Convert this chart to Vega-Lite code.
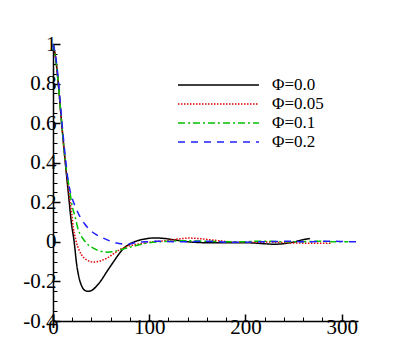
{
  "$schema": "https://vega.github.io/schema/vega-lite/v6.json",
  "autosize": {"type": "none"},
  "padding": {"left": 53, "top": 44, "right": 49, "bottom": 41},
  "width": 305,
  "height": 277,
  "background": "white",
  "config": {
    "view": {"stroke": null},
    "axis": {"grid": false, "domainColor": "black", "domainWidth": 1.5, "tickColor": "black", "labelColor": "black", "labelFont": "Liberation Serif", "labelFontSize": 21, "title": null, "labelOverlap": false, "labelFlush": false},
    "legend": {"orient": "none", "legendX": 154.5, "legendY": 30, "title": null, "symbolType": "M-4,0H4", "symbolSize": 410, "symbolStrokeWidth": 1.5, "labelFont": "Liberation Serif", "labelFontSize": 17, "labelColor": "black", "labelOffset": 42.5, "rowPadding": 0}
  },
  "data": {"values": [
    {"s":"Φ=0.0","x":0,"y":1},{"s":"Φ=0.0","x":3,"y":0.92},{"s":"Φ=0.0","x":5.5,"y":0.8},{"s":"Φ=0.0","x":9,"y":0.6},{"s":"Φ=0.0","x":13,"y":0.39},{"s":"Φ=0.0","x":16.5,"y":0.22},{"s":"Φ=0.0","x":19,"y":0.1},{"s":"Φ=0.0","x":22,"y":0},{"s":"Φ=0.0","x":24.5,"y":-0.11},{"s":"Φ=0.0","x":27,"y":-0.18},{"s":"Φ=0.0","x":30,"y":-0.225},{"s":"Φ=0.0","x":33,"y":-0.245},{"s":"Φ=0.0","x":36,"y":-0.25},{"s":"Φ=0.0","x":40,"y":-0.246},{"s":"Φ=0.0","x":45,"y":-0.225},{"s":"Φ=0.0","x":50,"y":-0.195},{"s":"Φ=0.0","x":56,"y":-0.15},{"s":"Φ=0.0","x":63,"y":-0.1},{"s":"Φ=0.0","x":68,"y":-0.065},{"s":"Φ=0.0","x":73,"y":-0.035},{"s":"Φ=0.0","x":80,"y":-0.01},{"s":"Φ=0.0","x":88,"y":0.006},{"s":"Φ=0.0","x":96,"y":0.015},{"s":"Φ=0.0","x":106,"y":0.02},{"s":"Φ=0.0","x":116,"y":0.017},{"s":"Φ=0.0","x":126,"y":0.01},{"s":"Φ=0.0","x":136,"y":0.003},{"s":"Φ=0.0","x":150,"y":-0.003},{"s":"Φ=0.0","x":170,"y":-0.005},{"s":"Φ=0.0","x":190,"y":-0.004},{"s":"Φ=0.0","x":205,"y":-0.005},{"s":"Φ=0.0","x":218,"y":-0.009},{"s":"Φ=0.0","x":230,"y":-0.012},{"s":"Φ=0.0","x":240,"y":-0.009},{"s":"Φ=0.0","x":250,"y":-0.001},{"s":"Φ=0.0","x":258,"y":0.009},{"s":"Φ=0.0","x":267,"y":0.017},
    {"s":"Φ=0.05","x":0,"y":1},{"s":"Φ=0.05","x":3,"y":0.92},{"s":"Φ=0.05","x":5.5,"y":0.8},{"s":"Φ=0.05","x":9,"y":0.6},{"s":"Φ=0.05","x":13,"y":0.39},{"s":"Φ=0.05","x":17.7,"y":0.21},{"s":"Φ=0.05","x":19.4,"y":0.145},{"s":"Φ=0.05","x":21.1,"y":0.07},{"s":"Φ=0.05","x":23,"y":0.025},{"s":"Φ=0.05","x":24.6,"y":-0.007},{"s":"Φ=0.05","x":27,"y":-0.04},{"s":"Φ=0.05","x":29.8,"y":-0.066},{"s":"Φ=0.05","x":34,"y":-0.088},{"s":"Φ=0.05","x":38.5,"y":-0.099},{"s":"Φ=0.05","x":42,"y":-0.102},{"s":"Φ=0.05","x":45.4,"y":-0.1},{"s":"Φ=0.05","x":50,"y":-0.095},{"s":"Φ=0.05","x":55.8,"y":-0.083},{"s":"Φ=0.05","x":61,"y":-0.067},{"s":"Φ=0.05","x":66.2,"y":-0.049},{"s":"Φ=0.05","x":71,"y":-0.035},{"s":"Φ=0.05","x":76.6,"y":-0.024},{"s":"Φ=0.05","x":82,"y":-0.017},{"s":"Φ=0.05","x":88.7,"y":-0.011},{"s":"Φ=0.05","x":96,"y":-0.004},{"s":"Φ=0.05","x":105,"y":0.001},{"s":"Φ=0.05","x":115,"y":0.005},{"s":"Φ=0.05","x":128,"y":0.013},{"s":"Φ=0.05","x":142,"y":0.019},{"s":"Φ=0.05","x":155,"y":0.015},{"s":"Φ=0.05","x":168,"y":0.008},{"s":"Φ=0.05","x":180,"y":0.002},{"s":"Φ=0.05","x":195,"y":-0.002},{"s":"Φ=0.05","x":210,"y":-0.002},{"s":"Φ=0.05","x":225,"y":-0.001},{"s":"Φ=0.05","x":240,"y":-0.004},{"s":"Φ=0.05","x":255,"y":-0.006},{"s":"Φ=0.05","x":270,"y":-0.007},{"s":"Φ=0.05","x":290,"y":-0.007},
    {"s":"Φ=0.1","x":0,"y":1},{"s":"Φ=0.1","x":3,"y":0.92},{"s":"Φ=0.1","x":5.5,"y":0.8},{"s":"Φ=0.1","x":9,"y":0.6},{"s":"Φ=0.1","x":13,"y":0.4},{"s":"Φ=0.1","x":17.7,"y":0.25},{"s":"Φ=0.1","x":20,"y":0.18},{"s":"Φ=0.1","x":22.9,"y":0.128},{"s":"Φ=0.1","x":26.3,"y":0.06},{"s":"Φ=0.1","x":29.5,"y":0.028},{"s":"Φ=0.1","x":33.3,"y":0.002},{"s":"Φ=0.1","x":37,"y":-0.017},{"s":"Φ=0.1","x":41.9,"y":-0.032},{"s":"Φ=0.1","x":47,"y":-0.044},{"s":"Φ=0.1","x":52.3,"y":-0.05},{"s":"Φ=0.1","x":57,"y":-0.052},{"s":"Φ=0.1","x":62.7,"y":-0.049},{"s":"Φ=0.1","x":68,"y":-0.043},{"s":"Φ=0.1","x":73.1,"y":-0.036},{"s":"Φ=0.1","x":79,"y":-0.028},{"s":"Φ=0.1","x":85.3,"y":-0.02},{"s":"Φ=0.1","x":92,"y":-0.012},{"s":"Φ=0.1","x":100,"y":-0.005},{"s":"Φ=0.1","x":110,"y":0},{"s":"Φ=0.1","x":125,"y":0.004},{"s":"Φ=0.1","x":140,"y":0.006},{"s":"Φ=0.1","x":155,"y":0.004},{"s":"Φ=0.1","x":170,"y":0.002},{"s":"Φ=0.1","x":185,"y":0},{"s":"Φ=0.1","x":200,"y":0.001},{"s":"Φ=0.1","x":215,"y":0.003},{"s":"Φ=0.1","x":230,"y":0.002},{"s":"Φ=0.1","x":245,"y":0},{"s":"Φ=0.1","x":260,"y":0.001},{"s":"Φ=0.1","x":275,"y":0.003},{"s":"Φ=0.1","x":290,"y":0.001},{"s":"Φ=0.1","x":307,"y":0},
    {"s":"Φ=0.2","x":0,"y":1},{"s":"Φ=0.2","x":3,"y":0.93},{"s":"Φ=0.2","x":5.5,"y":0.82},{"s":"Φ=0.2","x":9,"y":0.62},{"s":"Φ=0.2","x":13,"y":0.42},{"s":"Φ=0.2","x":16,"y":0.3},{"s":"Φ=0.2","x":19.4,"y":0.229},{"s":"Φ=0.2","x":23,"y":0.18},{"s":"Φ=0.2","x":28,"y":0.128},{"s":"Φ=0.2","x":33,"y":0.09},{"s":"Φ=0.2","x":38.5,"y":0.06},{"s":"Φ=0.2","x":45,"y":0.036},{"s":"Φ=0.2","x":52.3,"y":0.019},{"s":"Φ=0.2","x":59,"y":0.005},{"s":"Φ=0.2","x":66.2,"y":-0.006},{"s":"Φ=0.2","x":71,"y":-0.01},{"s":"Φ=0.2","x":76.6,"y":-0.012},{"s":"Φ=0.2","x":82,"y":-0.008},{"s":"Φ=0.2","x":87,"y":-0.003},{"s":"Φ=0.2","x":95,"y":0},{"s":"Φ=0.2","x":110,"y":0.003},{"s":"Φ=0.2","x":125,"y":0.001},{"s":"Φ=0.2","x":140,"y":0},{"s":"Φ=0.2","x":155,"y":0.003},{"s":"Φ=0.2","x":170,"y":0.001},{"s":"Φ=0.2","x":185,"y":-0.002},{"s":"Φ=0.2","x":200,"y":-0.002},{"s":"Φ=0.2","x":215,"y":0},{"s":"Φ=0.2","x":230,"y":0.002},{"s":"Φ=0.2","x":245,"y":0.003},{"s":"Φ=0.2","x":260,"y":0},{"s":"Φ=0.2","x":275,"y":0.002},{"s":"Φ=0.2","x":290,"y":0.003},{"s":"Φ=0.2","x":305,"y":0.001},{"s":"Φ=0.2","x":316,"y":0}
  ]},
  "mark": {"type": "line", "interpolate": "monotone", "strokeWidth": 1.5},
  "encoding": {
    "x": {"field": "x", "type": "quantitative", "scale": {"domain": [0, 317], "nice": false, "zero": false},
      "axis": {"values": [0, 20, 40, 60, 80, 100, 120, 140, 160, 180, 200, 220, 240, 260, 280, 300],
        "labelExpr": "datum.value % 100 == 0 ? '' + datum.value : ''",
        "tickSize": {"condition": {"test": "datum.value % 100 == 0", "value": -7}, "value": -4},
        "tickWidth": {"condition": {"test": "datum.value % 100 == 0", "value": 1.5}, "value": 1},
        "labelPadding": 2, "orient": "bottom", "labelFont": "Liberation Serif", "labelFontSize": 21}},
    "y": {"field": "y", "type": "quantitative", "scale": {"domain": [-0.4, 1], "nice": false, "zero": false},
      "axis": {"values": [-0.4, -0.35, -0.3, -0.25, -0.2, -0.15, -0.1, -0.05, 0, 0.05, 0.1, 0.15, 0.2, 0.25, 0.3, 0.35, 0.4, 0.45, 0.5, 0.55, 0.6, 0.65, 0.7, 0.75, 0.8, 0.85, 0.9, 0.95, 1],
        "labelExpr": "abs(round(datum.value * 20)) % 4 == 0 ? '' + datum.value : ''",
        "tickSize": {"condition": {"test": "abs(round(datum.value * 20)) % 4 == 0", "value": -7}, "value": -4},
        "tickWidth": {"condition": {"test": "abs(round(datum.value * 20)) % 4 == 0", "value": 1.5}, "value": 1},
        "labelPadding": 4, "labelFont": "Liberation Serif", "labelFontSize": 21, "orient": "left"}},
    "color": {"field": "s", "type": "nominal", "sort": ["Φ=0.0", "Φ=0.05", "Φ=0.1", "Φ=0.2"],
      "scale": {"domain": ["Φ=0.0", "Φ=0.05", "Φ=0.1", "Φ=0.2"], "range": ["#000000", "#e00000", "#00c000", "#2020ff"]}},
    "strokeDash": {"field": "s", "type": "nominal", "sort": ["Φ=0.0", "Φ=0.05", "Φ=0.1", "Φ=0.2"],
      "scale": {"domain": ["Φ=0.0", "Φ=0.05", "Φ=0.1", "Φ=0.2"], "range": [[1, 0], [1.5, 1.5], [7, 3, 2, 3], [7, 6]]}}
  }
}
